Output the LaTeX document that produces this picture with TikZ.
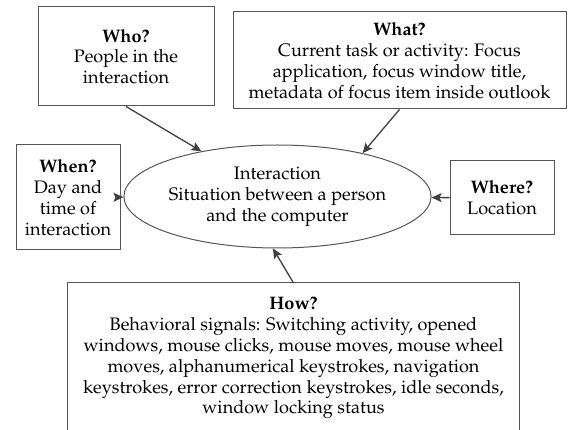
\documentclass[tikz,border=0pt]{standalone}
\usepackage[T1]{fontenc}
\usepackage{mathpazo}
\usetikzlibrary{arrows.meta,shapes.geometric}
\definecolor{framegray}{HTML}{555555}
\definecolor{arrowgray}{HTML}{404040}
\begin{document}
\begin{tikzpicture}[x=1pt,y=-1pt,
  txt/.style={align=center, font=\fontsize{18.1}{20.8}\selectfont},
  box/.style={txt, draw=framegray, line width=1pt, inner sep=0pt},
  conn/.style={draw=arrowgray, line width=1.3pt, -{Stealth[length=10pt,width=9pt,inset=2pt]}},
]
\useasboundingbox (0,0) rectangle (568,430);
\clip (0,0) rectangle (568,430);

\node[box, minimum width=176, minimum height=99] (who) at (126,56.5)
  {\textbf{Who?}\\People in the\\interaction};
\node[box, minimum width=333, minimum height=97] (what) at (399.5,60.5)
  {\textbf{What?}\\Current task or activity: Focus\\application, focus window title,\\metadata of focus item inside outlook};
\node[box, minimum width=104, minimum height=105] (when) at (68,197.5)
  {\textbf{When?}\\Day and\\time of\\interaction};
\node[box, minimum width=104, minimum height=74] (where) at (502,198)
  {\textbf{Where?}\\Location};
\node[txt, ellipse, draw=framegray, line width=1pt, inner sep=0pt,
      minimum width=259, minimum height=103] (ell) at (277.5,196.5)
  {Interaction\\Situation between a person\\and the computer};
\node[txt, anchor=north, inner xsep=0pt, inner ysep=14pt, minimum width=451] (how) at (293.5,283)
  {\textbf{How?}\\Behavioral signals: Switching activity, opened\\windows, mouse clicks, mouse moves, mouse wheel\\moves, alphanumerical keystrokes, navigation\\keystrokes, error correction keystrokes, idle seconds,\\window locking status};
\draw[framegray, line width=1pt] (how.north west) rectangle ([yshift=-40pt]how.south east);

\draw[conn] (who.south) -- (ell);
\draw[conn] (what.south) -- (ell.27);
\draw[conn] (when) -- (ell);
\draw[conn] (where) -- (ell);
\draw[conn] (how.north) -- (ell.265);
\end{tikzpicture}
\end{document}
